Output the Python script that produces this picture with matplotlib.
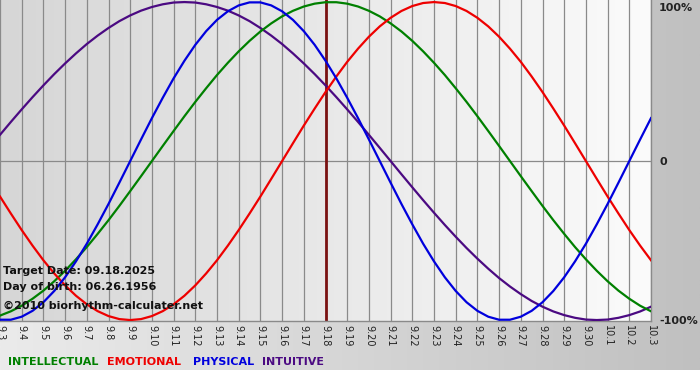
import numpy as np
import matplotlib.pyplot as plt
from matplotlib.colors import LinearSegmentedColormap

# days shown on the x axis (09.03 .. 10.03)
day_labels = ['9.3', '9.4', '9.5', '9.6', '9.7', '9.8', '9.9', '9.10', '9.11', '9.12',
              '9.13', '9.14', '9.15', '9.16', '9.17', '9.18', '9.19', '9.20', '9.21',
              '9.22', '9.23', '9.24', '9.25', '9.26', '9.27', '9.28', '9.29', '9.30',
              '10.1', '10.2', '10.3']

# cycle values (-1 .. 1), every half day from 9.3 to 10.3
intellectual = [-0.972, -0.945, -0.910, -0.866, -0.815, -0.756, -0.690, -0.618, -0.541, -0.458,
                -0.372, -0.282, -0.189, -0.095, 0.000, 0.095, 0.189, 0.282, 0.372, 0.458,
                0.541, 0.618, 0.690, 0.756, 0.815, 0.866, 0.910, 0.945, 0.972, 0.990,
                0.999, 0.999, 0.990, 0.972, 0.945, 0.910, 0.866, 0.815, 0.756, 0.690,
                0.618, 0.541, 0.458, 0.372, 0.282, 0.189, 0.095, 0.000, -0.095, -0.189,
                -0.282, -0.372, -0.458, -0.541, -0.618, -0.690, -0.756, -0.815, -0.866, -0.910,
                -0.945]
emotional = [-0.223, -0.330, -0.434, -0.532, -0.624, -0.707, -0.782, -0.847, -0.901, -0.944,
             -0.975, -0.994, -1.000, -0.994, -0.975, -0.944, -0.901, -0.847, -0.782, -0.707,
             -0.624, -0.532, -0.434, -0.330, -0.223, -0.112, 0.000, 0.112, 0.223, 0.330,
             0.434, 0.532, 0.624, 0.707, 0.782, 0.847, 0.901, 0.944, 0.975, 0.994,
             1.000, 0.994, 0.975, 0.944, 0.901, 0.847, 0.782, 0.707, 0.624, 0.532,
             0.434, 0.330, 0.223, 0.112, 0.000, -0.112, -0.223, -0.330, -0.434, -0.532,
             -0.624]
physical = [-0.998, -0.998, -0.979, -0.942, -0.888, -0.817, -0.731, -0.631, -0.520, -0.398,
            -0.270, -0.136, 0.000, 0.136, 0.270, 0.398, 0.520, 0.631, 0.731, 0.817,
            0.888, 0.942, 0.979, 0.998, 0.998, 0.979, 0.942, 0.888, 0.817, 0.731,
            0.631, 0.520, 0.398, 0.270, 0.136, 0.000, -0.136, -0.270, -0.398, -0.520,
            -0.631, -0.731, -0.817, -0.888, -0.942, -0.979, -0.998, -0.998, -0.979, -0.942,
            -0.888, -0.817, -0.731, -0.631, -0.520, -0.398, -0.270, -0.136, 0.000, 0.136,
            0.270]
intuitive = [0.165, 0.246, 0.325, 0.402, 0.476, 0.547, 0.614, 0.677, 0.736, 0.789,
             0.837, 0.880, 0.916, 0.946, 0.969, 0.986, 0.997, 1.000, 0.997, 0.986,
             0.969, 0.946, 0.916, 0.880, 0.837, 0.789, 0.736, 0.677, 0.614, 0.547,
             0.476, 0.402, 0.325, 0.246, 0.165, 0.083, 0.000, -0.083, -0.165, -0.246,
             -0.325, -0.402, -0.476, -0.547, -0.614, -0.677, -0.736, -0.789, -0.837, -0.880,
             -0.916, -0.946, -0.969, -0.986, -0.997, -1.000, -0.997, -0.986, -0.969, -0.946,
             -0.916]

target_label = '9.18'
y_tick_labels = ['100%', '0', '-100%']

col_int = '#008000'
col_emo = '#ee0000'
col_phy = '#0000dd'
col_ntu = '#4b0a82'

W, H = 700, 380
fig = plt.figure(figsize=(W/100, H/100), dpi=100)
fig.patch.set_facecolor('white')

# grey background band behind everything
bg = fig.add_axes([0, 10/H, 1, 370/H], zorder=-1)
bg.imshow(np.linspace(0, 1, 256).reshape(1, -1), aspect='auto',
          cmap=LinearSegmentedColormap.from_list('bg', ['#ebebeb', '#c0c0c0']),
          extent=[0, 1, 0, 1])
bg.axis('off')

ax = fig.add_axes([0, 1 - 321/H, 651/W, 321/H])
x = np.arange(len(day_labels))
xs = np.arange(len(physical)) * 0.5   # half-day sample positions
ylo, yhi = -1.006, 1.013
ax.set_xlim(0, len(day_labels) - 1)
ax.set_ylim(ylo, yhi)

# plot area gradient
ax.imshow(np.linspace(0, 1, 256).reshape(1, -1), aspect='auto',
          cmap=LinearSegmentedColormap.from_list('pa', ['#d6d6d6', '#fbfbfb']),
          extent=[0, len(day_labels) - 1, ylo, yhi], zorder=0)

for xi in x:
    ax.axvline(xi, color='#8a8a8a', lw=0.9, zorder=1)
ax.axhline(0, color='#8a8a8a', lw=0.9, zorder=1)
ax.axvline(day_labels.index(target_label), color='#7a1212', lw=2, zorder=1)

ax.plot(xs, intuitive, color=col_ntu, lw=1.6, zorder=3)
ax.plot(xs, intellectual, color=col_int, lw=1.6, zorder=3)
ax.plot(xs, emotional, color=col_emo, lw=1.6, zorder=3)
ax.plot(xs, physical, color=col_phy, lw=1.6, zorder=3)

ax.set_xticks(x)
ax.set_xticklabels(day_labels, rotation=-90, fontsize=7, color='#222222')
ax.tick_params(axis='x', length=0, pad=3)
ax.set_yticks([])
for s in ['left', 'top']:
    ax.spines[s].set_visible(False)
for s in ['bottom', 'right']:
    ax.spines[s].set_color('#8a8a8a')
    ax.spines[s].set_linewidth(1)

# percentage labels on the right
for py, lab in zip([8, 162, 321], y_tick_labels):
    fig.text(659/W, 1 - py/H, lab, ha='left', va='center', fontsize=8,
             fontweight='bold', color='#222222')

# info text on the chart
fig.text(3/W, 1 - 271/H, 'Target Date: 09.18.2025', fontsize=8, fontweight='bold',
         va='center', ha='left', color='#111111')
fig.text(3/W, 1 - 287/H, 'Day of birth: 06.26.1956', fontsize=8, fontweight='bold',
         va='center', ha='left', color='#111111')
fig.text(3/W, 1 - 306/H, '\u00a92010 biorhythm-calculater.net', fontsize=8, fontweight='bold',
         va='center', ha='left', color='#111111')

# legend row
legend = [('INTELLECTUAL', col_int, 8), ('EMOTIONAL', col_emo, 107),
          ('PHYSICAL', col_phy, 193), ('INTUITIVE', col_ntu, 262)]
for name, c, px in legend:
    fig.text(px/W, 1 - 362/H, name, color=c, fontsize=8, fontweight='bold',
             va='center', ha='left')

plt.savefig('out.png', dpi=100)
